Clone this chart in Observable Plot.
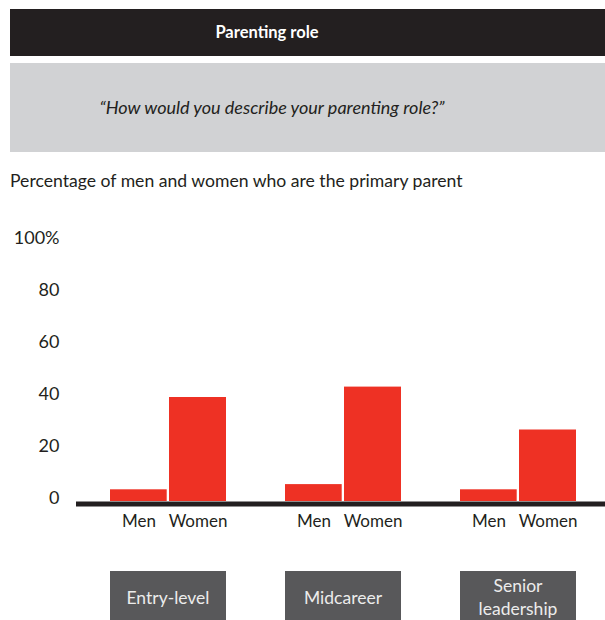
<!DOCTYPE html>
<html>
<head>
<meta charset="utf-8">
<script src="https://cdn.jsdelivr.net/npm/d3@7"></script>
<script src="https://cdn.jsdelivr.net/npm/@observablehq/plot@0.6"></script>
<style>
  html, body { margin: 0; padding: 0; background: #fff; }
  #page { position: relative; width: 605px; height: 620px; overflow: hidden; font-family: Lato, "Noto Sans", sans-serif; color: #231f20; }
  #titlebar { position: absolute; left: 10px; top: 9px; width: 595px; height: 47px; background: #231f20; }
  #title { position: absolute; left: 0; width: 534px; top: 9px; height: 47px; line-height: 47px; text-align: center; color: #fff; font-weight: 700; font-size: 16.5px; }
  #subbox { position: absolute; left: 10px; top: 63px; width: 595px; height: 89px; background: #d1d2d4; }
  #subtitle { position: absolute; left: 0; width: 544px; top: 63px; height: 89px; line-height: 89px; text-align: center; font-style: italic; font-size: 18px; color: #231f20; }
  #caption { position: absolute; left: 10px; top: 170px; font-size: 17.6px; line-height: 22px; color: #231f20; }
  #chart { position: absolute; left: 0; top: 198px; }
  .catbox { position: absolute; top: 571px; height: 52px; background: #58585a; color: #ececec; font-size: 17.5px; line-height: 23px; display: flex; align-items: center; justify-content: center; text-align: center; }
</style>
</head>
<body>
<div id="page">
  <div id="titlebar"></div>
  <div id="title">Parenting role</div>
  <div id="subbox"></div>
  <div id="subtitle">“How would you describe your parenting role?”</div>
  <div id="caption">Percentage of men and women who are the primary parent</div>
  <div id="chart"></div>
</div>
<script>
const levels = ["Entry-level", "Midcareer", "Senior leadership"];
const levelLabels = ["Entry-level", "Midcareer", "Senior<br>leadership"];
const genders = ["Men", "Women"];
const menValues = [4.5, 6.5, 4.5];
const womenValues = [40, 44, 27.5];
const yTicks = [0, 20, 40, 60, 80, 100];

const menData = levels.map((level, i) => ({level, gender: genders[0], value: menValues[i]}));
const womenData = levels.map((level, i) => ({level, gender: genders[1], value: womenValues[i]}));

const red = "#ee3124";
const dark = "#231f20";

const plot = Plot.plot({
  width: 605,
  height: 343,
  marginTop: 43,
  marginBottom: 40,
  marginLeft: 76,
  marginRight: 0,
  style: {fontFamily: "Lato, 'Noto Sans', sans-serif", color: dark, background: "transparent"},
  x: {domain: levels, range: [108.3, 577.3], paddingInner: 0.3352, paddingOuter: 0, axis: null},
  y: {domain: [0, 100], axis: null},
  marks: [
    Plot.barY(menData, {x: "level", y: "value", fill: red, insetRight: 59.3}),
    Plot.barY(womenData, {x: "level", y: "value", fill: red, insetLeft: 59}),
    Plot.ruleY([0], {stroke: dark, strokeWidth: 5, dy: 2.5}),
    Plot.axisY({ticks: yTicks, tickSize: 0, tickPadding: 17, fontSize: 18, dy: -3, fill: dark,
      tickFormat: d => d === 100 ? "100%" : String(d), label: null}),
    Plot.text(menData, {x: "level", text: "gender", frameAnchor: "bottom", dy: 25, dx: -29.5, fontSize: 17, fill: dark}),
    Plot.text(womenData, {x: "level", text: "gender", frameAnchor: "bottom", dy: 25, dx: 29.5, fontSize: 17, fill: dark})
  ]
});
document.getElementById("chart").appendChild(plot);

const xs = plot.scale("x");
const page = document.getElementById("page");
levels.forEach((level, i) => {
  const div = document.createElement("div");
  div.className = "catbox";
  div.style.left = xs.apply(level) + "px";
  div.style.width = xs.bandwidth + "px";
  div.innerHTML = levelLabels[i];
  page.appendChild(div);
});
</script>
</body>
</html>
